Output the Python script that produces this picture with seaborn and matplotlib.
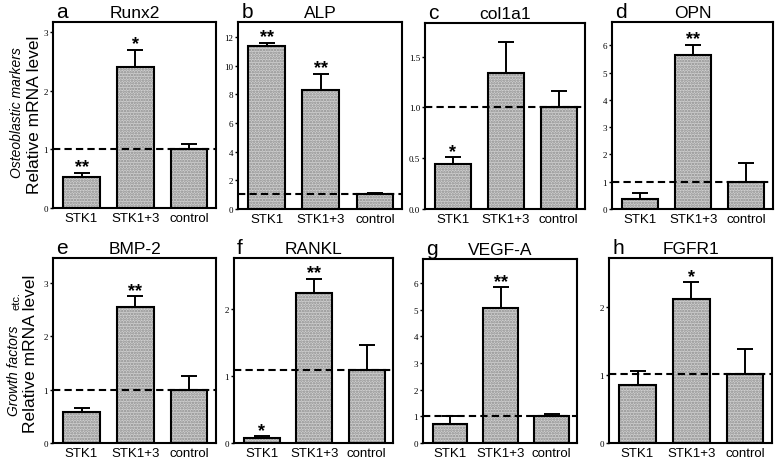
import numpy as np
import pandas as pd
import matplotlib
matplotlib.use('Agg')
import matplotlib.pyplot as plt
import seaborn as sns

# groups / panel titles
groups = ["STK1", "STK1+3", "control"]
genes = ["Runx2", "ALP", "col1a1", "OPN", "BMP-2", "RANKL", "VEGF-A", "FGFR1"]
letters = ["a", "b", "c", "d", "e", "f", "g", "h"]

# bar heights and upper error (SD)
runx2 = [0.53, 2.41, 1.01]
runx2_err = [0.07, 0.29, 0.08]
alp = [11.37, 8.3, 1.05]
alp_err = [0.23, 1.15, 0.05]
col1a1 = [0.44, 1.34, 1.0]
col1a1_err = [0.07, 0.30, 0.16]
opn = [0.35, 5.65, 1.0]
opn_err = [0.24, 0.37, 0.70]
bmp2 = [0.58, 2.55, 1.0]
bmp2_err = [0.08, 0.19, 0.25]
rankl = [0.07, 2.25, 1.1]
rankl_err = [0.03, 0.21, 0.36]
vegfa = [0.71, 5.06, 1.0]
vegfa_err = [0.29, 0.78, 0.09]
fgfr1 = [0.85, 2.13, 1.02]
fgfr1_err = [0.21, 0.24, 0.37]

# significance marks
stars = [["**", "*", ""], ["**", "**", ""], ["*", "", ""], ["", "**", ""],
         ["", "**", ""], ["*", "**", ""], ["", "**", ""], ["", "*", ""]]

# y axis settings per panel
ylims = [3.17, 13.05, 1.83, 6.86, 3.46, 2.77, 6.9, 2.73]
yticks = [[0, 1, 2, 3], [0, 2, 4, 6, 8, 10, 12], [0.0, 0.5, 1.0, 1.5], [0, 1, 2, 3, 4, 5, 6],
          [0, 1, 2, 3], [0, 1, 2], [0, 1, 2, 3, 4, 5, 6], [0, 1, 2]]

means = [runx2, alp, col1a1, opn, bmp2, rankl, vegfa, fgfr1]
errs = [runx2_err, alp_err, col1a1_err, opn_err, bmp2_err, rankl_err, vegfa_err, fgfr1_err]

sns.set_style("ticks")
plt.rcParams['font.family'] = ['Liberation Sans', 'DejaVu Sans']
plt.rcParams['axes.edgecolor'] = 'black'
plt.rcParams['text.color'] = 'black'
plt.rcParams['xtick.color'] = 'black'
plt.rcParams['ytick.color'] = 'black'
plt.rcParams['hatch.linewidth'] = 1.2

W, H = 780, 464
fig = plt.figure(figsize=(W / 100, H / 100), dpi=100)

# axes boxes in pixels: left, right, top, bottom
boxes = [(53, 216, 23, 209), (238, 402, 23, 210), (425, 585, 24, 210), (612, 773, 23, 210),
         (53, 216, 259, 444), (234, 393, 259, 444), (423, 577, 260, 444), (609, 772, 259, 444)]

for i in range(8):
    l, r, t, b = boxes[i]
    ax = fig.add_axes([l / W, 1 - b / H, (r - l) / W, (b - t) / H])
    df = pd.DataFrame({"group": groups, "value": means[i]})

    # stippled fill, then black outline on top
    sns.barplot(data=df, x="group", y="value", ax=ax, color="#d0d0d0", saturation=1,
                edgecolor="#8c8c8c", linewidth=0, hatch="......", width=0.68, errorbar=None)
    sns.barplot(data=df, x="group", y="value", ax=ax, color="black", fill=False,
                linewidth=1.5, width=0.68, errorbar=None)

    ax.errorbar(x=np.arange(3), y=means[i], yerr=[np.zeros(3), errs[i]], fmt="none",
                ecolor="black", elinewidth=1.4, capsize=6, capthick=1.4, zorder=5)

    # reference line at the control level
    ax.axhline(means[i][2], color="black", lw=1.5, ls=(0, (3.5, 2)), zorder=6)

    for j in range(3):
        if stars[i][j]:
            ax.annotate(stars[i][j], (j, means[i][j] + errs[i][j]), xytext=(0, 1),
                        textcoords="offset points", ha="center", va="baseline",
                        fontsize=13, fontweight="bold")

    ax.set_xlim(-0.53, 2.5)
    ax.set_ylim(0, ylims[i])
    ax.set_yticks(yticks[i])
    if i == 2:
        ylabels = ["%.1f" % v for v in yticks[i]]
    else:
        ylabels = [str(v) for v in yticks[i]]
    ax.set_yticklabels(ylabels, fontfamily="Liberation Serif", fontsize=6.5)
    ax.tick_params(axis="y", direction="out", length=2.5, width=1, pad=1)
    ax.tick_params(axis="x", direction="in", length=3, width=1, labelsize=9.5, pad=3)
    ax.set_xlabel("")
    ax.set_ylabel("")
    for s in ax.spines.values():
        s.set_linewidth(1.5)

    ax.text(0.5, 1.025, genes[i], transform=ax.transAxes, ha="center", va="baseline", fontsize=12.5)
    ax.text(0.02, 1.025, letters[i], transform=ax.transAxes, ha="left", va="baseline", fontsize=15)

# row labels
fig.text(35 / W, 1 - 115 / H, "Relative mRNA level", rotation=90, ha="center", va="center", fontsize=12.5)
fig.text(17 / W, 1 - 113 / H, "Osteoblastic markers", rotation=90, ha="center", va="center",
         fontsize=10, style="italic")
fig.text(31 / W, 1 - 354 / H, "Relative mRNA level", rotation=90, ha="center", va="center", fontsize=12.5)
fig.text(21 / W, 1 - 371 / H, "Growth factors", rotation=90, ha="right", va="center",
         fontsize=10, style="italic")
fig.text(21 / W, 1 - 301 / H, "etc.", rotation=90, ha="right", va="center", fontsize=8)

fig.savefig("out.png", dpi=100)
